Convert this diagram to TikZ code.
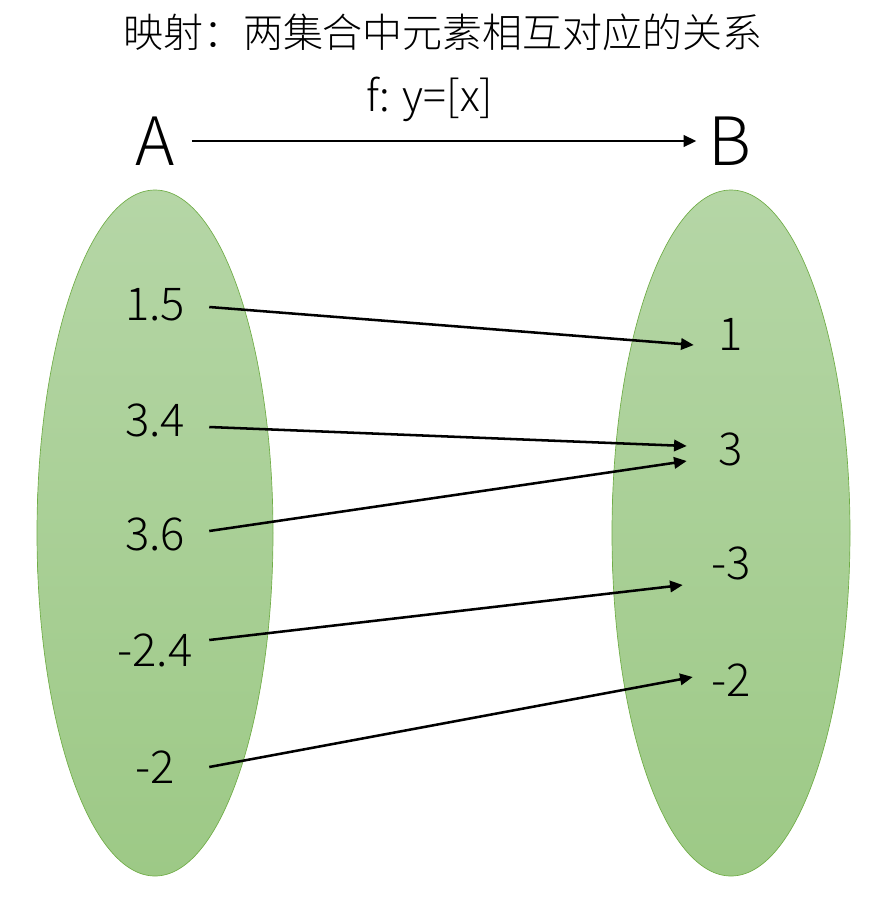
\documentclass[tikz,border=0pt]{standalone}
\usepackage{fontspec}
\setmainfont{Noto Sans CJK SC Light}
\usetikzlibrary{calc, arrows.meta}
\definecolor{setTop}{RGB}{181,214,166}
\definecolor{setBottom}{RGB}{157,201,134}
\definecolor{setEdge}{RGB}{112,173,71}

\begin{document}
\begin{tikzpicture}[x = 0.75pt, y = -0.75pt,
            setshape/.style = {draw = setEdge, line width = 0.5pt, top color = setTop, bottom color = setBottom},
            mapto/.style = {black, line width = 1.9pt, -{Triangle[length = 9.5pt, width = 8.5pt]}},
            elemL/.style = {font = \fontsize{34pt}{34pt}\selectfont, minimum width = 81pt, inner sep = 0pt},
            elemR/.style = {font = \fontsize{34pt}{34pt}\selectfont, minimum width = 57pt, inner sep = 0pt}]
            \useasboundingbox (0, 0) rectangle (876, 901);
            
            \node (title) at (443, 32) {\fontsize{30pt}{30pt}\selectfont 映射：两集合中元素相互对应的关系};
            \node (rule) at (430, 99) {\fontsize{32pt}{32pt}\selectfont f: y=[x]};
            
            \node[font = \fontsize{50pt}{50pt}\selectfont, minimum width = 55pt, inner sep = 0pt] (A) at (155, 141) {A};
            \node[font = \fontsize{50pt}{50pt}\selectfont, minimum width = 50pt, inner sep = 0pt] (B) at (730, 141) {B};
            \draw[mapto] (A.east) -- (B.west);
            
            \shade[setshape] (155, 533) ellipse (118 and 343);
            \shade[setshape] (731, 533) ellipse (119 and 343);
            
            \node[elemL] (a1) at (155, 305) {1.5};
            \node[elemL] (a2) at (155, 420) {3.4};
            \node[elemL] (a3) at (155, 534) {3.6};
            \node[elemL] (a4) at (155, 650) {-2.4};
            \node[elemL] (a5) at (155, 767) {-2};
            
            \node[elemR] (b1) at (731, 334) {1};
            \node[elemR] (b2) at (731, 449) {3};
            \node[elemR] (b3) at (731, 563) {-3};
            \node[elemR] (b4) at (731, 680) {-2};
            
            \draw[mapto] ($(a1.east) + (0, 2)$) -- ($(b1.west) + (1, 11)$);
            \draw[mapto] ($(a2.east) + (0, 7)$) -- ($(b2.west) + (-6, -3)$);
            \draw[mapto] ($(a3.east) + (0, -3)$) -- ($(b2.west) + (-6, 12)$);
            \draw[mapto] ($(a4.east) + (0, -10)$) -- ($(b3.west) + (-10, 22)$);
            \draw[mapto] (a5.east) -- ($(b4.west) + (0, -3)$);
        \end{tikzpicture}
\end{document}
